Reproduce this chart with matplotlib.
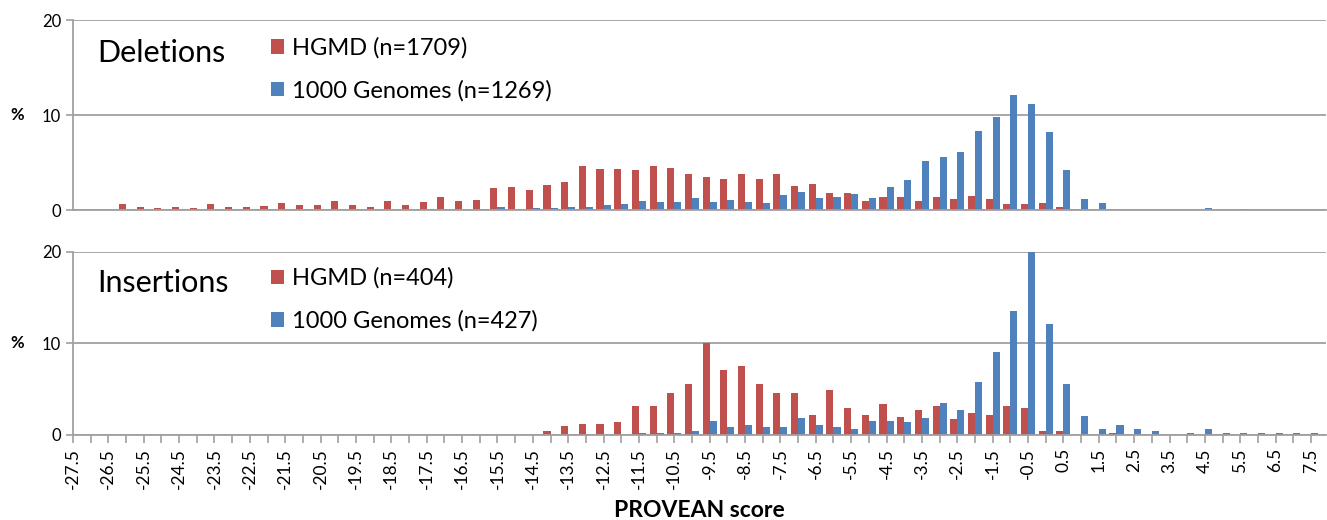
import numpy as np
import matplotlib.pyplot as plt

plt.rcParams['font.family'] = ['Lato', 'DejaVu Sans']

# PROVEAN score categories (bin centres, step 0.5)
scores = [-27.5, -27.0, -26.5, -26.0, -25.5, -25.0, -24.5, -24.0, -23.5, -23.0,
          -22.5, -22.0, -21.5, -21.0, -20.5, -20.0, -19.5, -19.0, -18.5, -18.0,
          -17.5, -17.0, -16.5, -16.0, -15.5, -15.0, -14.5, -14.0, -13.5, -13.0,
          -12.5, -12.0, -11.5, -11.0, -10.5, -10.0, -9.5, -9.0, -8.5, -8.0,
          -7.5, -7.0, -6.5, -6.0, -5.5, -5.0, -4.5, -4.0, -3.5, -3.0,
          -2.5, -2.0, -1.5, -1.0, -0.5, 0.0, 0.5, 1.0, 1.5, 2.0,
          2.5, 3.0, 3.5, 4.0, 4.5, 5.0, 5.5, 6.0, 6.5, 7.0, 7.5]

# deletions, % of variants
del_hgmd = [0, 0.1, 0.1, 0.67, 0.32, 0.21, 0.32, 0.21, 0.63, 0.32,
            0.35, 0.46, 0.77, 0.53, 0.56, 0.91, 0.53, 0.32, 0.91, 0.56,
            0.84, 1.33, 0.98, 1.09, 2.28, 2.39, 2.07, 2.63, 2.98, 4.67,
            4.32, 4.35, 4.18, 4.6, 4.42, 3.79, 3.51, 3.26, 3.82, 3.26,
            3.79, 2.56, 2.7, 1.82, 1.79, 0.95, 1.37, 1.43, 0.98, 1.43,
            1.22, 1.5, 1.12, 0.66, 0.59, 0.73, 0.35, 0.1, 0.05, 0.1,
            0, 0, 0, 0, 0, 0, 0, 0, 0, 0, 0]
del_1kg = [0, 0, 0, 0, 0, 0, 0, 0, 0.05, 0,
           0, 0, 0, 0.1, 0, 0, 0.1, 0, 0.05, 0,
           0.15, 0.1, 0.05, 0.1, 0.3, 0.1, 0.2, 0.2, 0.35, 0.35,
           0.53, 0.63, 0.91, 0.84, 0.84, 1.23, 0.84, 1.09, 0.88, 0.74,
           1.54, 1.86, 1.26, 1.4, 1.72, 1.23, 2.39, 3.22, 5.17, 5.59,
           6.08, 8.29, 9.83, 12.1, 11.19, 8.18, 4.2, 1.19, 0.7, 0,
           0.05, 0, 0, 0.05, 0.25, 0, 0.08, 0, 0, 0.05, 0]

# insertions, % of variants
ins_hgmd = [0, 0, 0, 0, 0, 0, 0, 0, 0, 0,
            0, 0, 0, 0, 0, 0, 0, 0, 0, 0,
            0, 0, 0, 0, 0, 0, 0, 0.47, 0.94, 1.2,
            1.2, 1.41, 3.15, 3.15, 4.64, 5.58, 10.0, 7.1, 7.57, 5.58,
            4.64, 4.64, 2.17, 4.89, 2.93, 2.17, 3.37, 1.93, 2.74, 3.18,
            1.72, 2.45, 2.19, 3.18, 2.96, 0.47, 0.47, 0, 0, 0.22,
            0, 0, 0, 0, 0, 0, 0, 0, 0, 0, 0]
ins_1kg = [0, 0, 0, 0, 0, 0, 0, 0, 0, 0,
           0, 0, 0, 0, 0, 0, 0, 0, 0, 0,
           0, 0, 0, 0, 0, 0, 0, 0, 0, 0,
           0, 0, 0.22, 0.22, 0.22, 0.4, 1.56, 0.87, 1.12, 0.87,
           0.87, 1.81, 1.12, 0.87, 0.65, 1.56, 1.57, 1.39, 1.82, 3.47,
           2.74, 5.8, 9.09, 13.54, 23.7, 12.15, 5.62, 2.04, 0.66, 1.09,
           0.66, 0.4, 0, 0.18, 0.66, 0.18, 0.18, 0.18, 0.18, 0.18, 0.18]

RED = '#C0504D'
BLUE = '#4F81BD'
GRAY = '#A0A0A0'

fig = plt.figure(figsize=(13.27, 5.2), dpi=100)
ax1 = fig.add_axes([0.055, 0.596, 0.944, 0.365])
ax2 = fig.add_axes([0.055, 0.1635, 0.944, 0.352])

x = np.arange(len(scores))
w = 0.4

panels = [(ax1, 'Deletions', del_hgmd, del_1kg, 'HGMD (n=1709)', '1000 Genomes (n=1269)', 0.91),
          (ax2, 'Insertions', ins_hgmd, ins_1kg, 'HGMD (n=404)', '1000 Genomes (n=427)', 0.915)]

for ax, title, red, blue, lab_r, lab_b, ly in panels:
    ax.bar(x - w/2, red, w, color=RED, label=lab_r, zorder=2)
    ax.bar(x + w/2, blue, w, color=BLUE, label=lab_b, zorder=2)
    ax.set_xlim(0, 70.83)
    ax.set_ylim(0, 20)
    ax.set_yticks([0, 10, 20])
    ax.yaxis.grid(True, color=GRAY, lw=1.3, zorder=0)
    ax.set_axisbelow(True)
    for s in ['top', 'right']:
        ax.spines[s].set_visible(False)
    for s in ['left', 'bottom']:
        ax.spines[s].set_color(GRAY)
        ax.spines[s].set_linewidth(1.3)
    ax.tick_params(axis='y', colors=GRAY, labelcolor='black', labelsize=12, length=5, width=1.2)
    ax.set_ylabel('%', rotation=0, fontsize=12, fontweight='bold', labelpad=18, va='center')
    ax.text(0.019, 0.83, title, transform=ax.transAxes, fontsize=22, va='center')
    ax.legend(loc='upper left', bbox_to_anchor=(0.158, ly), frameon=False,
              fontsize=17, handlelength=0.55, handleheight=0.55, handletextpad=0.35,
              labelspacing=0.9, borderaxespad=0, borderpad=0)

ax1.set_xticks([])

ax2.set_xticks(x[::2])
ax2.set_xticklabels([str(s) for s in scores[::2]], rotation=90, fontsize=12.5)
ax2.set_xticks(x[1::2], minor=True)
ax2.tick_params(axis='x', which='both', colors=GRAY, labelcolor='black', length=6, width=1.2)
ax2.set_xlabel('PROVEAN score', fontsize=16.5, fontweight='bold', labelpad=8)

fig.savefig('out.png', dpi=100)
